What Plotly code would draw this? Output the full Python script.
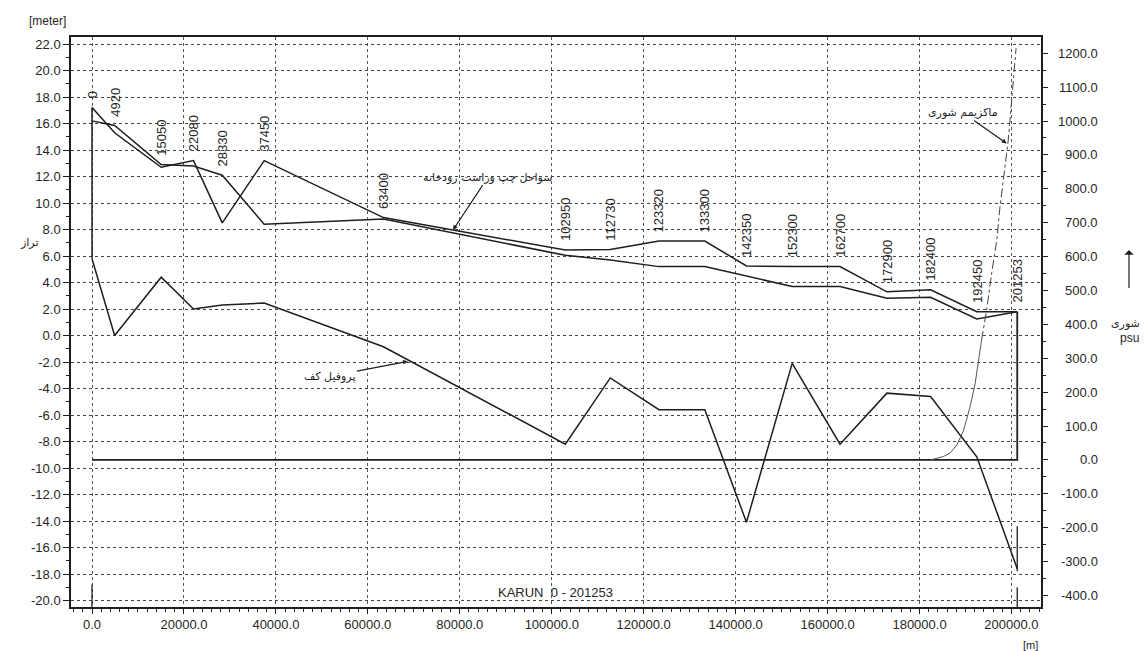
import plotly.graph_objects as go

# ---------------- data ----------------
stations = [0, 4920, 15050, 22080, 28330, 37450, 63400, 102950, 112730, 123320,
            133300, 142350, 152300, 162700, 172900, 182400, 192450, 201253]
bank_left = [17.2, 15.3, 12.7, 13.2, 8.5, 13.2, 8.9, 6.45, 6.5, 7.13,
             7.13, 5.25, 5.2, 5.2, 3.3, 3.45, 1.8, 1.8]
bank_right = [16.2, 15.85, 12.9, 12.8, 12.1, 8.4, 8.8, 6.05, 5.7, 5.2,
              5.2, 4.5, 3.7, 3.7, 2.82, 2.88, 1.25, 1.8]
bed = [5.8, 0.0, 4.4, 2.0, 2.3, 2.45, -0.85, -8.2, -3.2, -5.6,
       -5.6, -14.1, -2.1, -8.2, -4.35, -4.6, -9.15, -17.6]

sal_x = [182400, 185200, 186600, 188100, 189500, 191000, 192100, 193500,
         194600, 195700, 196800, 197500, 198600, 199300, 199800, 200400, 201000]
sal_s = [0, 10, 20, 44, 84, 157, 226, 354,
         442, 552, 649, 747, 865, 944, 1023, 1121, 1215]
sal_solid_n = 8  # first points drawn solid, rest dash-dot

mark_x = [0, 201253, 201253]
mark_top = [-18.8, -14.4, -19.0]
mark_bot = [-20.5, -17.8, -20.5]

x_tick_vals = [0, 20000, 40000, 60000, 80000, 100000, 120000, 140000, 160000, 180000, 200000]
x_tick_text = ["0.0", "20000.0", "40000.0", "60000.0", "80000.0", "100000.0",
               "120000.0", "140000.0", "160000.0", "180000.0", "200000.0"]
y_tick_vals = [22, 20, 18, 16, 14, 12, 10, 8, 6, 4, 2, 0, -2, -4, -6, -8, -10,
               -12, -14, -16, -18, -20]
y_tick_text = ["22.0", "20.0", "18.0", "16.0", "14.0", "12.0", "10.0", "8.0", "6.0",
               "4.0", "2.0", "0.0", "-2.0", "-4.0", "-6.0", "-8.0", "-10.0",
               "-12.0", "-14.0", "-16.0", "-18.0", "-20.0"]
y2_tick_vals = [1200, 1100, 1000, 900, 800, 700, 600, 500, 400, 300, 200, 100, 0,
                -100, -200, -300, -400]
y2_tick_text = ["1200.0", "1100.0", "1000.0", "900.0", "800.0", "700.0", "600.0",
                "500.0", "400.0", "300.0", "200.0", "100.0", "0.0", "-100.0",
                "-200.0", "-300.0", "-400.0"]

X_RANGE = [-4570, 206420]
Y_RANGE = [-20.49, 22.53]
Y2_RANGE = [-434, 1248]


def s_to_y(s):
    return Y_RANGE[0] + (s - Y2_RANGE[0]) / (Y2_RANGE[1] - Y2_RANGE[0]) * (Y_RANGE[1] - Y_RANGE[0])


INK = "#1e1e1e"
TXT = "#262626"
fig = go.Figure()

line_main = dict(color=INK, width=1.5)
fig.add_trace(go.Scatter(x=stations, y=bed, mode="lines", line=line_main, hoverinfo="skip"))
fig.add_trace(go.Scatter(x=stations, y=bank_left, mode="lines", line=line_main, hoverinfo="skip"))
fig.add_trace(go.Scatter(x=stations, y=bank_right, mode="lines", line=line_main, hoverinfo="skip"))
# vertical closing line at start of reach
fig.add_trace(go.Scatter(x=[stations[0], stations[0]], y=[bed[0], bank_left[0]], mode="lines",
                         line=line_main, hoverinfo="skip"))
# zero-salinity baseline box
y0 = s_to_y(0)
fig.add_trace(go.Scatter(x=[stations[0], stations[-1], stations[-1]], y=[y0, y0, bank_left[-1]],
                         mode="lines", line=dict(color=INK, width=1.8), hoverinfo="skip"))
# section markers
mx, my = [], []
for xv, a, b in zip(mark_x, mark_top, mark_bot):
    mx += [xv, xv, None]
    my += [a, b, None]
fig.add_trace(go.Scatter(x=mx, y=my, mode="lines", line=dict(color=INK, width=1.3), hoverinfo="skip"))

# salinity
fig.add_trace(go.Scatter(x=sal_x[:sal_solid_n], y=sal_s[:sal_solid_n], yaxis="y2", mode="lines",
                         line=dict(color="#555", width=1), hoverinfo="skip"))
fig.add_trace(go.Scatter(x=sal_x[sal_solid_n - 1:], y=sal_s[sal_solid_n - 1:], yaxis="y2", mode="lines",
                         line=dict(color="#444", width=1, dash="dashdot"), hoverinfo="skip"))

annotations = []
# station labels
for s, a, b in zip(stations, bank_left, bank_right):
    annotations.append(dict(x=s, y=max(a, b), xref="x", yref="y", text=str(s), textangle=-90,
                            showarrow=False, yanchor="bottom", xanchor="center", yshift=7,
                            font=dict(family="Arial", size=13, color=TXT)))

# right axis tick labels (right aligned)
for v, t in zip(y2_tick_vals, y2_tick_text):
    annotations.append(dict(x=1.0608, y=v, xref="paper", yref="y2", text=t, showarrow=False,
                            xanchor="right", yanchor="middle",
                            font=dict(family="Arial", size=13, color=TXT)))

fa = dict(family="DejaVu Sans", size=11, color=INK)
annotations += [
    dict(x=-0.0247, y=1.028, xref="paper", yref="paper", text="[meter]", showarrow=False,
         xanchor="center", yanchor="middle", font=dict(family="Arial", size=12, color=TXT)),
    dict(x=0.9887, y=-0.066, xref="paper", yref="paper", text="[m]", showarrow=False,
         xanchor="center", yanchor="middle", font=dict(family="Arial", size=11, color=TXT)),
    dict(x=-0.0423, y=0.640, xref="paper", yref="paper", text="تراز", showarrow=False,
         xanchor="center", yanchor="middle", font=fa),
    dict(x=1.1045, y=0.4965, xref="paper", yref="paper", text="شوری", showarrow=False,
         xanchor="right", yanchor="middle", font=fa),
    dict(x=1.1035, y=0.4719, xref="paper", yref="paper", text="psu", showarrow=False,
         xanchor="right", yanchor="middle", font=dict(family="Arial", size=12, color=TXT)),
    dict(x=1.0907, y=0.6263, xref="paper", yref="paper", text=" ", showarrow=True, ax=0, ay=47,
         arrowhead=1, arrowsize=1.3, arrowwidth=1.2, arrowcolor=INK),
    dict(x=0.499, y=0.0246, xref="paper", yref="paper", text="KARUN  0 - 201253", showarrow=False,
         xanchor="center", yanchor="middle", font=dict(family="Arial", size=13, color=TXT)),
    dict(x=78520, y=7.96, xref="x", yref="y", text="سواحل چپ وراست رودخانه", showarrow=True,
         ax=35, ay=-53, arrowhead=2, arrowsize=0.8, arrowwidth=1.2, arrowcolor=INK, font=fa),
    dict(x=68700, y=-1.95, xref="x", yref="y", text="پروفیل کف", showarrow=True,
         ax=-78, ay=15, arrowhead=2, arrowsize=0.8, arrowwidth=1.2, arrowcolor=INK, font=fa),
    dict(x=198950, y=934, xref="x", yref="y2", text="ماکزیمم شوری", showarrow=True,
         ax=-44, ay=-31, arrowhead=2, arrowsize=0.8, arrowwidth=1.2, arrowcolor=INK, font=fa),
]

fig.update_layout(
    width=1145, height=651,
    margin=dict(l=71, r=104, t=37, b=44),
    showlegend=False,
    plot_bgcolor="white", paper_bgcolor="white",
    font=dict(family="Arial", size=13, color=TXT),
    annotations=annotations,
    xaxis=dict(range=X_RANGE, tickmode="array", tickvals=x_tick_vals, ticktext=x_tick_text,
               ticks="outside", ticklen=5, tickcolor=INK, showline=True, linecolor=INK,
               linewidth=1.5, mirror=True, showgrid=True, gridcolor="#555", gridwidth=1,
               griddash="dot", zeroline=False,
               minor=dict(tickmode="linear", tick0=0, dtick=2000, ticks="outside", ticklen=3,
                          tickcolor=INK, showgrid=False)),
    yaxis=dict(range=Y_RANGE, tickmode="array", tickvals=y_tick_vals, ticktext=y_tick_text,
               ticks="outside", ticklen=6, tickcolor=INK, showline=True, linecolor=INK,
               linewidth=1.5, mirror=True, showgrid=True, gridcolor="#444", gridwidth=1,
               griddash="dot", zeroline=False,
               minor=dict(tickmode="linear", tick0=0, dtick=1, ticks="outside", ticklen=3,
                          tickcolor=INK, showgrid=False)),
    yaxis2=dict(range=Y2_RANGE, overlaying="y", side="right", tickmode="array",
                tickvals=y2_tick_vals, showticklabels=False, ticks="outside", ticklen=5,
                tickcolor=INK, showline=True, linecolor=INK, linewidth=1.5, showgrid=False,
                zeroline=False,
                minor=dict(tickmode="linear", tick0=0, dtick=50, ticks="outside", ticklen=3,
                           tickcolor=INK, showgrid=False)),
)

fig.write_html("out.html", config={"displayModeBar": False},
               post_script="document.body.style.margin='0';document.body.style.overflow='hidden';")
